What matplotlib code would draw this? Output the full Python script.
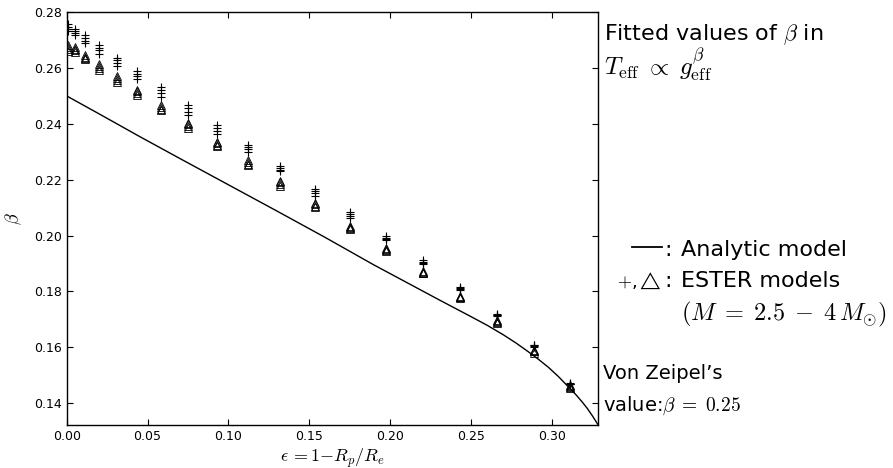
import matplotlib
matplotlib.use("Agg")
import matplotlib.pyplot as plt
from matplotlib.lines import Line2D

plt.rcParams['mathtext.fontset'] = 'cm'
plt.rcParams['font.family'] = 'DejaVu Sans'

# flattening of the ESTER models (one column of markers per rotation rate)
eps = [0.0008, 0.0051, 0.0116, 0.0199, 0.0310, 0.0437, 0.0585, 0.0751, 0.0928, 0.1121,
       0.1321, 0.1534, 0.1753, 0.1975, 0.2201, 0.2432, 0.2659, 0.2888, 0.3113]

# fitted beta, "+" markers, one list per mass
plus_m25 = [0.2756, 0.2739, 0.2718, 0.2684, 0.2637, 0.2591, 0.2533, 0.2468, 0.2396, 0.2325,
            0.2248, 0.2167, 0.2083, 0.1998, 0.1912, 0.1817, 0.1720, 0.1610, 0.1471]
plus_m30 = [0.2748, 0.2732, 0.2708, 0.2673, 0.2627, 0.2580, 0.2521, 0.2456, 0.2385, 0.2317,
            0.2242, 0.2159, 0.2076, 0.1993, 0.1907, 0.1813, 0.1717, 0.1607, 0.1470]
plus_m35 = [0.2740, 0.2725, 0.2698, 0.2663, 0.2618, 0.2570, 0.2510, 0.2444, 0.2375, 0.2309,
            0.2236, 0.2151, 0.2070, 0.1988, 0.1902, 0.1809, 0.1715, 0.1605, 0.1469]
plus_m40 = [0.2732, 0.2718, 0.2688, 0.2652, 0.2608, 0.2559, 0.2498, 0.2432, 0.2364, 0.2301,
            0.2230, 0.2143, 0.2063, 0.1983, 0.1897, 0.1805, 0.1712, 0.1602, 0.1468]

# fitted beta, triangle markers, one list per mass
tri_m25 = [0.2682, 0.2674, 0.2646, 0.2614, 0.2570, 0.2523, 0.2467, 0.2404, 0.2336, 0.2271,
           0.2197, 0.2116, 0.2036, 0.1955, 0.1872, 0.1783, 0.1697, 0.1592, 0.1464]
tri_m30 = [0.2675, 0.2669, 0.2641, 0.2607, 0.2564, 0.2517, 0.2461, 0.2398, 0.2331, 0.2264,
           0.2191, 0.2112, 0.2032, 0.1952, 0.1870, 0.1781, 0.1693, 0.1588, 0.1460]
tri_m35 = [0.2668, 0.2664, 0.2636, 0.2599, 0.2557, 0.2510, 0.2454, 0.2391, 0.2325, 0.2258,
           0.2185, 0.2107, 0.2028, 0.1948, 0.1867, 0.1780, 0.1690, 0.1585, 0.1457]
tri_m40 = [0.2661, 0.2659, 0.2631, 0.2592, 0.2551, 0.2504, 0.2448, 0.2385, 0.2320, 0.2251,
           0.2179, 0.2103, 0.2024, 0.1945, 0.1865, 0.1778, 0.1686, 0.1581, 0.1453]

# analytic model curve
eps_model = [0.0, 0.02, 0.045, 0.07, 0.10, 0.13, 0.16, 0.19, 0.21, 0.23, 0.25, 0.26, 0.27,
             0.278, 0.286, 0.292, 0.298, 0.304, 0.3107, 0.315, 0.319, 0.322, 0.3251,
             0.3272, 0.3288]
beta_model = [0.2500, 0.2436, 0.2355, 0.2276, 0.2182, 0.2088, 0.1993, 0.1895, 0.1833, 0.1771,
              0.1710, 0.1679, 0.1645, 0.1615, 0.1582, 0.1556, 0.1528, 0.1496, 0.1456,
              0.1430, 0.1403, 0.1381, 0.1355, 0.1336, 0.1321]

xticks = [0.00, 0.05, 0.10, 0.15, 0.20, 0.25, 0.30]
yticks = [0.14, 0.16, 0.18, 0.20, 0.22, 0.24, 0.26, 0.28]

fig = plt.figure(figsize=(8.93, 4.68), dpi=100)
ax = fig.add_axes([0.0747, 0.092, 0.5953, 0.882])

ax.plot(eps_model, beta_model, 'k-', lw=1.0)
for b in [plus_m25, plus_m30, plus_m35, plus_m40]:
	ax.plot(eps, b, 'k+', ms=5.5, mew=0.8, ls='none')
for b in [tri_m25, tri_m30, tri_m35, tri_m40]:
	ax.plot(eps, b, '^', ms=6.3, mfc='none', mec='k', mew=0.6, ls='none')

ax.set_xlim(0, 0.3288)
ax.set_ylim(0.1322, 0.28)
ax.set_xticks(xticks)
ax.set_yticks(yticks)
ax.set_xticklabels(['%.2f' % v for v in xticks])
ax.set_yticklabels(['%.2f' % v for v in yticks])
ax.tick_params(direction='in', top=True, right=True, length=4, width=0.8, labelsize=9)
for s in ax.spines.values():
	s.set_linewidth(1.0)

ax.set_xlabel(r'$\epsilon\,{=}1{-}R_p/R_e$', fontsize=13)
ax.xaxis.set_label_coords(0.5, -0.052)
ax.set_ylabel(r'$\beta$', fontsize=13)
ax.yaxis.set_label_coords(-0.08, 0.5)

# annotation block on the right
fig.text(0.676, 0.9145, r'Fitted values of $\beta$ in', fontsize=16, va='baseline')
fig.text(0.676, 0.8397, r'$T_{\rm eff}\;\propto\;g_{\rm eff}^{\beta}$', fontsize=18, va='baseline')

fig.add_artist(Line2D([0.7074, 0.7410], [0.4729, 0.4729], color='k', lw=1.3,
					  transform=fig.transFigure))
fig.text(0.748, 0.453, ':', fontsize=16, va='baseline', ha='center')
fig.text(0.7623, 0.453, 'Analytic model', fontsize=16, va='baseline')

fig.text(0.741, 0.3874, r'$+$,$\triangle$', fontsize=13, va='baseline', ha='right')
fig.text(0.748, 0.3874, ':', fontsize=16, va='baseline', ha='center')
fig.text(0.7623, 0.3874, 'ESTER models', fontsize=16, va='baseline')
fig.text(0.7623, 0.3162, r'$(M\;=\;2.5\;-\;4\,M_{\odot})$', fontsize=17.5, va='baseline')

fig.text(0.6756, 0.1895, "Von Zeipel’s", fontsize=14, va='baseline')
fig.text(0.6756, 0.1224, r'value:$\beta\;=\;0.25$', fontsize=14, va='baseline')

fig.savefig('out.png', dpi=100)
